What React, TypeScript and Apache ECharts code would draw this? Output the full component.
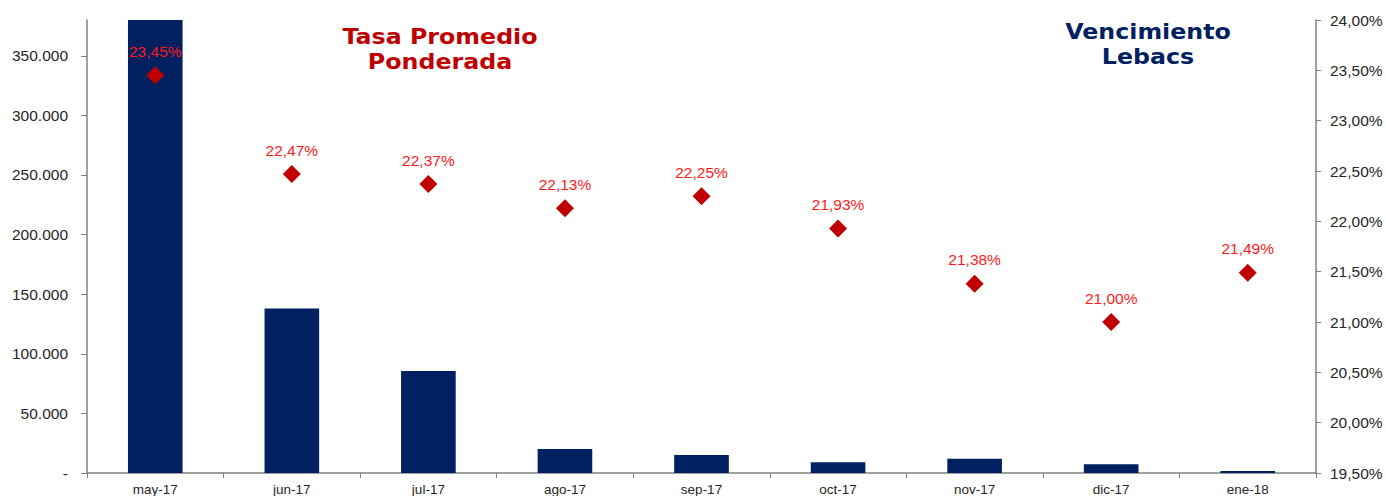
import React, { useEffect, useRef } from "react";
import * as echarts from "echarts";

const categories = ["may-17", "jun-17", "jul-17", "ago-17", "sep-17", "oct-17", "nov-17", "dic-17", "ene-18"];
const vencimientos = [383000, 138000, 85600, 20100, 15100, 9000, 12000, 7300, 1700];
const tasas = [23.45, 22.47, 22.37, 22.13, 22.25, 21.93, 21.38, 21.0, 21.49];
const leftAxis = { min: 0, max: 380000, interval: 50000 };
const rightAxis = { min: 19.5, max: 24, interval: 0.5 };
const titleTasa = ["Tasa Promedio", "Ponderada"];
const titleVenc = ["Vencimiento", "Lebacs"];

const fmtThousands = (v: number) => {
  if (v === 0) return "-";
  return Math.round(v).toString().replace(/\B(?=(\d{3})+(?!\d))/g, ".");
};
const fmtPct = (v: number) => v.toFixed(2).replace(".", ",") + "%";

const titleFont = "bold 21px 'DejaVu Sans', Verdana, sans-serif";

export default function App() {
  const ref = useRef<HTMLDivElement>(null);
  useEffect(() => {
    if (!ref.current) return;
    const chart = echarts.init(ref.current, undefined, { renderer: "svg" });
    const axisFont = { fontFamily: "Liberation Sans, Arial, sans-serif", color: "#262626" };
    const titleText = (text: string, x: number, y: number, fill: string) => ({
      type: "text",
      x,
      y,
      scaleX: 1.13,
      scaleY: 1.0,
      z: 10,
      style: { text, fill, font: titleFont, align: "center", verticalAlign: "middle" },
    });
    chart.setOption({
      animation: false,
      backgroundColor: "#ffffff",
      grid: { left: 87, right: 70, top: 20, bottom: 23, containLabel: false },
      xAxis: {
        type: "category",
        data: categories,
        boundaryGap: true,
        axisLine: { lineStyle: { color: "#808080", width: 1.5 } },
        axisTick: { show: true, alignWithLabel: false, length: 5, lineStyle: { color: "#808080" } },
        axisLabel: { ...axisFont, fontSize: 13.5, margin: 9 },
        splitLine: { show: false },
      },
      yAxis: [
        {
          type: "value",
          min: leftAxis.min,
          max: leftAxis.max,
          interval: leftAxis.interval,
          position: "left",
          axisLine: { show: true, lineStyle: { color: "#808080", width: 1.5 } },
          axisTick: { show: true, length: 6, inside: false, lineStyle: { color: "#808080" } },
          axisLabel: {
            ...axisFont,
            fontSize: 15.5,
            margin: 19,
            showMaxLabel: false,
            formatter: (v: number) => (v % leftAxis.interval === 0 ? fmtThousands(v) : ""),
          },
          splitLine: { show: false },
        },
        {
          type: "value",
          min: rightAxis.min,
          max: rightAxis.max,
          interval: rightAxis.interval,
          position: "right",
          axisLine: { show: true, lineStyle: { color: "#808080", width: 1.5 } },
          axisTick: { show: true, length: 5, inside: false, lineStyle: { color: "#808080" } },
          axisLabel: { ...axisFont, fontSize: 15.5, margin: 14, formatter: (v: number) => fmtPct(v) },
          splitLine: { show: false },
        },
      ],
      series: [
        {
          type: "bar",
          name: "Vencimiento Lebacs",
          data: vencimientos,
          yAxisIndex: 0,
          barWidth: "40%",
          itemStyle: { color: "#002060" },
          clip: true,
        },
        {
          type: "line",
          name: "Tasa Promedio Ponderada",
          data: tasas,
          yAxisIndex: 1,
          lineStyle: { width: 0, opacity: 0 },
          symbol: "diamond",
          symbolSize: [18, 18],
          itemStyle: { color: "#c00000" },
          label: {
            show: true,
            position: "top",
            distance: 7,
            color: "#ff1a1a",
            fontSize: 15.5,
            fontFamily: "Liberation Sans, Arial, sans-serif",
            formatter: (p: any) => fmtPct(p.value),
          },
          z: 5,
        },
      ],
      graphic: [
        titleText(titleTasa[0], 440, 37, "#c00000"),
        titleText(titleTasa[1], 440, 62, "#c00000"),
        titleText(titleVenc[0], 1148, 32, "#002060"),
        titleText(titleVenc[1], 1148, 57, "#002060"),
      ],
    });
    return () => chart.dispose();
  }, []);
  return <div ref={ref} style={{ position: "fixed", left: 0, top: 0, width: 1386, height: 496 }} />;
}
